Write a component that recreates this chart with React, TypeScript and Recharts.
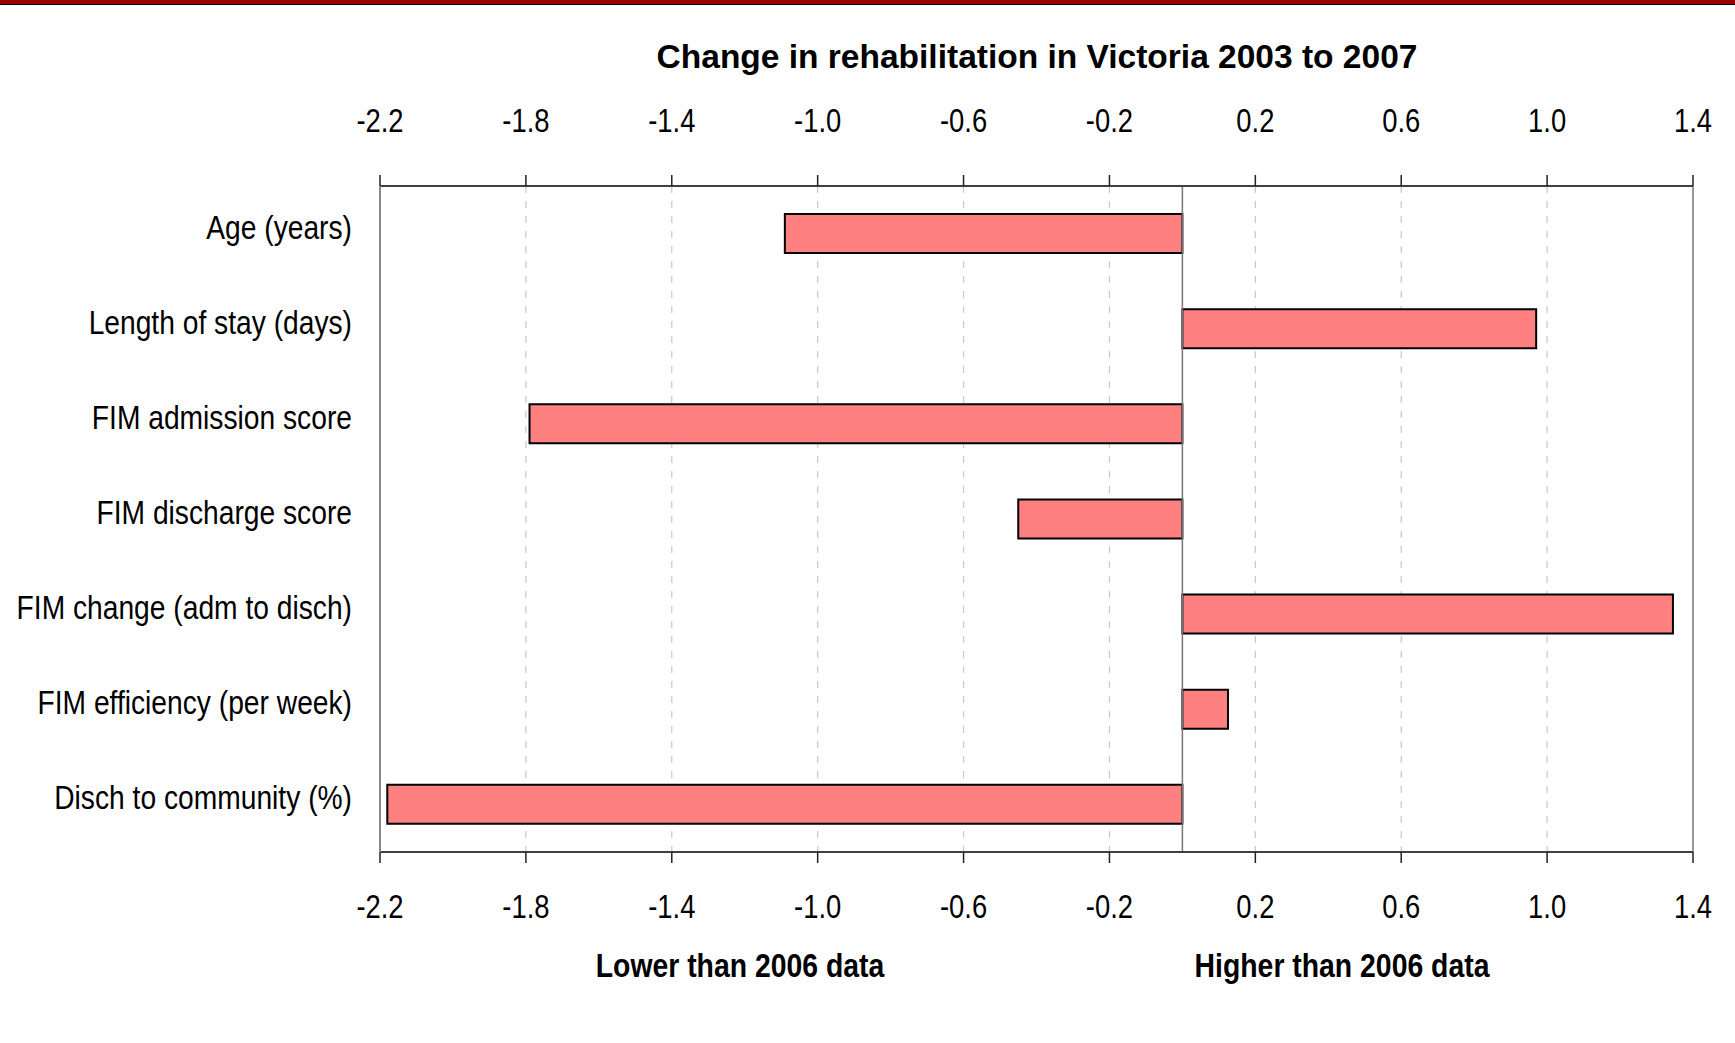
import React from 'react';
import {
  BarChart,
  Bar,
  XAxis,
  YAxis,
  CartesianGrid,
  ReferenceLine,
} from 'recharts';

// Indicators compared against the 2006 figures
const categories = [
  'Age (years)',
  'Length of stay (days)',
  'FIM admission score',
  'FIM discharge score',
  'FIM change (adm to disch)',
  'FIM efficiency (per week)',
  'Disch to community (%)',
];

// Change for each indicator, same order as categories
const changes = [-1.09, 0.97, -1.79, -0.45, 1.345, 0.125, -2.18];

const xTicks = [-2.2, -1.8, -1.4, -1.0, -0.6, -0.2, 0.2, 0.6, 1.0, 1.4];
const xDomain: [number, number] = [-2.2, 1.4];

const titleText = 'Change in rehabilitation in Victoria 2003 to 2007';
const lowerText = 'Lower than 2006 data';
const higherText = 'Higher than 2006 data';

const data = categories.map((name, i) => ({ name, value: changes[i] }));

const W = 1735;
const H = 1043;
const sans = '"Liberation Sans", Arial, sans-serif';

// Condensed text: regular sans squeezed horizontally about its anchor point
const NarrowText = ({
  x,
  y,
  anchor,
  size,
  squeeze,
  bold,
  children,
}: {
  x: number;
  y: number;
  anchor: 'start' | 'middle' | 'end';
  size: number;
  squeeze: number;
  bold?: boolean;
  children: React.ReactNode;
}) => (
  <text
    transform={`translate(${x},${y}) scale(${squeeze},1)`}
    textAnchor={anchor}
    fontFamily={sans}
    fontSize={size}
    fontWeight={bold ? 'bold' : 'normal'}
    fill="#000"
  >
    {children}
  </text>
);

const ValueTick = (props: any) => {
  const { x, y, payload } = props;
  return (
    <NarrowText x={x} y={y} anchor="middle" size={33} squeeze={0.83}>
      {Number(payload.value).toFixed(1)}
    </NarrowText>
  );
};

const CategoryTick = (props: any) => {
  const { x, y, payload } = props;
  return (
    <NarrowText x={x} y={y + 5} anchor="end" size={33} squeeze={0.855}>
      {payload.value}
    </NarrowText>
  );
};

export default function App() {
  return (
    <div
      style={{
        position: 'absolute',
        left: 0,
        top: 0,
        width: W,
        height: H,
        background: '#fff',
        overflow: 'hidden',
      }}
    >
      <div
        style={{
          position: 'absolute',
          left: 0,
          top: 0,
          width: W,
          height: 4,
          background: '#990000',
          borderBottom: '1px solid #000',
        }}
      />
      <BarChart
        width={W}
        height={H}
        data={data}
        layout="vertical"
        margin={{ top: 86, right: 42, bottom: 91, left: 0 }}
        barCategoryGap={0}
      >
        <CartesianGrid
          xAxisId="bottom"
          horizontal={false}
          vertical
          stroke="#c8c8c8"
          strokeWidth={1.2}
          strokeDasharray="7 8"
        />
        <XAxis
          xAxisId="top"
          orientation="top"
          type="number"
          domain={xDomain}
          ticks={xTicks}
          allowDataOverflow
          height={100}
          axisLine={{ stroke: '#404040', strokeWidth: 2 }}
          tickLine={{ stroke: '#222', strokeWidth: 1.5 }}
          tickSize={11}
          tickMargin={43}
          tick={<ValueTick />}
          interval={0}
        />
        <XAxis
          xAxisId="bottom"
          orientation="bottom"
          type="number"
          domain={xDomain}
          ticks={xTicks}
          allowDataOverflow
          height={100}
          axisLine={{ stroke: '#404040', strokeWidth: 2 }}
          tickLine={{ stroke: '#222', strokeWidth: 1.5 }}
          tickSize={11}
          tickMargin={55}
          tick={<ValueTick />}
          interval={0}
        />
        <YAxis
          type="category"
          dataKey="name"
          width={380}
          axisLine={{ stroke: '#888', strokeWidth: 2 }}
          tickLine={false}
          tickSize={0}
          tickMargin={28}
          tick={<CategoryTick />}
          interval={0}
        />
        <ReferenceLine xAxisId="bottom" x={1.4} stroke="#999" strokeWidth={2} />
        <ReferenceLine xAxisId="bottom" x={0} stroke="#777" strokeWidth={1.5} />
        <Bar
          xAxisId="bottom"
          dataKey="value"
          fill="#FF8080"
          stroke="#000"
          strokeWidth={2}
          barSize={39}
          isAnimationActive={false}
        />
      </BarChart>
      <svg
        width={W}
        height={H}
        style={{ position: 'absolute', left: 0, top: 0, pointerEvents: 'none' }}
      >
        <text x={1037} y={68} textAnchor="middle" fontFamily={sans} fontWeight="bold" fontSize={33.5} fill="#000">
          {titleText}
        </text>
        <NarrowText x={740} y={977} anchor="middle" size={33} squeeze={0.86} bold>
          {lowerText}
        </NarrowText>
        <NarrowText x={1342} y={977} anchor="middle" size={33} squeeze={0.86} bold>
          {higherText}
        </NarrowText>
      </svg>
    </div>
  );
}
